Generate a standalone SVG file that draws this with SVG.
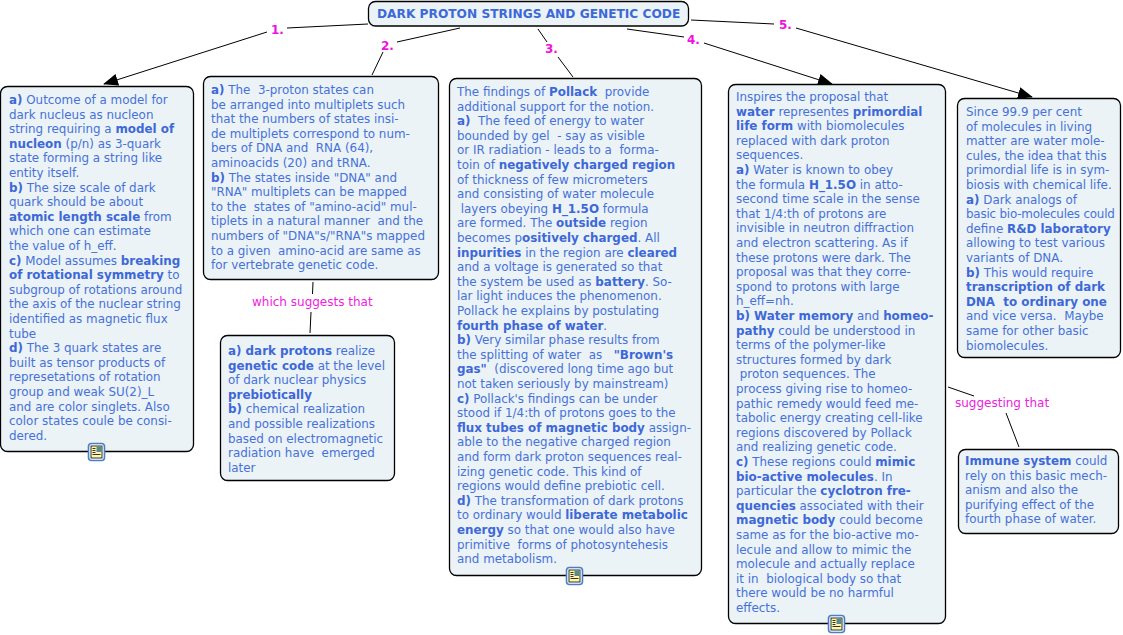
<svg xmlns="http://www.w3.org/2000/svg" width="1123" height="635" viewBox="0 0 1123 635">
<style>
.box{fill:#ebf3f7;stroke:#000;stroke-width:1.300}
.t{font-family:"DejaVu Sans",Verdana,sans-serif;font-size:11.900px;fill:#4671d8;white-space:pre}
.b{font-weight:bold;fill:#3d68d8}
.l{font-family:"DejaVu Sans",Verdana,sans-serif;font-size:12px;fill:#ee22e0}
.n{font-weight:bold;fill:#f010e0}
.c{fill:none;stroke:#000;stroke-width:1}
</style>
<defs>
<marker id="arr" markerWidth="15" markerHeight="12" refX="14" refY="6" orient="auto" markerUnits="userSpaceOnUse"><path d="M0 0L15 6L0 12Z" fill="#000"/></marker>
<g id="icon"><rect x="-8.500" y="-8.500" width="16" height="17" rx="3" fill="#fff" stroke="#4a7fc8" stroke-width="1.600"/><rect x="-6" y="-6" width="11" height="12" fill="#fff6b0" stroke="#000" stroke-width=".8"/><path d="M-4.500-3.500h3M-4.500-1.500h3M-4.500 .5h3M-4.500 2.500h8" stroke="#000" stroke-width=".8"/><rect x="-.5" y="-5.500" width="5" height="5.500" fill="#5a8a8a"/></g>
</defs>
<g id="connectors">
<path class="c" d="M368 24L287 28M267 32L104 84" marker-end="url(#arr)"/>
<path class="c" d="M460 28L397 42M383 52L372 75"/>
<path class="c" d="M538 29L547 42M558 57L573 77"/>
<path class="c" d="M627 29L684 37M704 43L832 84" marker-end="url(#arr)"/>
<path class="c" d="M691 20L774 24M796 28L1032 97" marker-end="url(#arr)"/>
<path class="c" d="M313 282L312.500 294M311 312L310 333"/>
<path class="c" d="M948 387L974 396M1006 413L1019 447"/>
<text class="l n" x="271" y="34">1.</text>
<text class="l n" x="381" y="50">2.</text>
<text class="l n" x="545" y="53">3.</text>
<text class="l n" x="687" y="44">4.</text>
<text class="l n" x="779" y="29">5.</text>
<text class="l" x="252" y="306">which suggests that</text>
<text class="l" x="955" y="407">suggesting that</text>
</g>
<g id="title"><rect class="box" x="368.500" y="1.500" width="320" height="24.500" rx="7"/><text class="t b" x="377" y="18" font-size="12.200" style="font-size:12.200px">DARK PROTON STRINGS AND GENETIC CODE</text></g>
<g id="n1"><rect class="box" x="0.500" y="86.500" width="193" height="365" rx="7"/>
<text class="t" y="104"><tspan x="9"><tspan class="b">a)</tspan> Outcome of a model for</tspan><tspan x="9" dy="14.600">dark nucleus as nucleon</tspan><tspan x="9" dy="14.600">string requiring a <tspan class="b">model of</tspan></tspan><tspan x="9" dy="14.600"><tspan class="b">nucleon</tspan> (p/n) as 3-quark</tspan><tspan x="9" dy="14.600">state forming a string like</tspan><tspan x="9" dy="14.600">entity itself.</tspan><tspan x="9" dy="14.600"><tspan class="b">b)</tspan> The size scale of dark</tspan><tspan x="9" dy="14.600">quark should be about</tspan><tspan x="9" dy="14.600"><tspan class="b">atomic length scale</tspan> from</tspan><tspan x="9" dy="14.600">which one can estimate</tspan><tspan x="9" dy="14.600">the value of h_eff.</tspan><tspan x="9" dy="14.600"><tspan class="b">c)</tspan> Model assumes <tspan class="b">breaking</tspan></tspan><tspan x="9" dy="14.600"><tspan class="b">of rotational symmetry</tspan> to</tspan><tspan x="9" dy="14.600">subgroup of rotations around</tspan><tspan x="9" dy="14.600">the axis of the nuclear string</tspan><tspan x="9" dy="14.600">identified as magnetic flux</tspan><tspan x="9" dy="14.600">tube</tspan><tspan x="9" dy="14.600"><tspan class="b">d)</tspan> The 3 quark states are</tspan><tspan x="9" dy="14.600">built as tensor products of</tspan><tspan x="9" dy="14.600">represetations of rotation</tspan><tspan x="9" dy="14.600">group and weak SU(2)_L</tspan><tspan x="9" dy="14.600">and are color singlets. Also</tspan><tspan x="9" dy="14.600">color states coule be consi-</tspan><tspan x="9" dy="14.600">dered.</tspan></text><use href="#icon" x="97" y="452"/></g>
<g id="n2"><rect class="box" x="203.500" y="76.500" width="235" height="203" rx="7"/>
<text class="t" y="94"><tspan x="211"><tspan class="b">a)</tspan> The  3-proton states can</tspan><tspan x="211" dy="14.600">be arranged into multiplets such</tspan><tspan x="211" dy="14.600">that the numbers of states insi-</tspan><tspan x="211" dy="14.600">de multiplets correspond to num-</tspan><tspan x="211" dy="14.600">bers of DNA and  RNA (64),</tspan><tspan x="211" dy="14.600">aminoacids (20) and tRNA.</tspan><tspan x="211" dy="14.600"><tspan class="b">b)</tspan> The states inside "DNA" and</tspan><tspan x="211" dy="14.600">"RNA" multiplets can be mapped</tspan><tspan x="211" dy="14.600">to the  states of "amino-acid" mul-</tspan><tspan x="211" dy="14.600">tiplets in a natural manner  and the</tspan><tspan x="211" dy="14.600">numbers of "DNA"s/"RNA"s mapped</tspan><tspan x="211" dy="14.600">to a given  amino-acid are same as</tspan><tspan x="211" dy="14.600">for vertebrate genetic code.</tspan></text></g>
<g id="n2b"><rect class="box" x="220.500" y="335.500" width="174" height="145" rx="7"/>
<text class="t" y="355"><tspan x="228"><tspan class="b">a) dark protons</tspan> realize</tspan><tspan x="228" dy="14.600"><tspan class="b">genetic code</tspan> at the level</tspan><tspan x="228" dy="14.600">of dark nuclear physics</tspan><tspan x="228" dy="14.600"><tspan class="b">prebiotically</tspan></tspan><tspan x="228" dy="14.600"><tspan class="b">b)</tspan> chemical realization</tspan><tspan x="228" dy="14.600">and possible realizations</tspan><tspan x="228" dy="14.600">based on electromagnetic</tspan><tspan x="228" dy="14.600">radiation have  emerged</tspan><tspan x="228" dy="14.600">later</tspan></text></g>
<g id="n3"><rect class="box" x="449.500" y="78.500" width="252" height="497" rx="7"/>
<text class="t" y="96"><tspan x="457">The findings of <tspan class="b">Pollack</tspan>  provide</tspan><tspan x="457" dy="14.600">additional support for the notion.</tspan><tspan x="457" dy="14.600"><tspan class="b">a)</tspan>  The feed of energy to water</tspan><tspan x="457" dy="14.600">bounded by gel  - say as visible</tspan><tspan x="457" dy="14.600">or IR radiation - leads to a  forma-</tspan><tspan x="457" dy="14.600">toin of <tspan class="b">negatively charged region</tspan></tspan><tspan x="457" dy="14.600">of thickness of few micrometers</tspan><tspan x="457" dy="14.600">and consisting of water molecule</tspan><tspan x="457" dy="14.600"> layers obeying <tspan class="b">H_1.5O</tspan> formula</tspan><tspan x="457" dy="14.600">are formed. The <tspan class="b">outside</tspan> region</tspan><tspan x="457" dy="14.600">becomes p<tspan class="b">ositively charged</tspan>. All</tspan><tspan x="457" dy="14.600"><tspan class="b">inpurities</tspan> in the region are <tspan class="b">cleared</tspan></tspan><tspan x="457" dy="14.600">and a voltage is generated so that</tspan><tspan x="457" dy="14.600">the system be used as <tspan class="b">battery</tspan>. So-</tspan><tspan x="457" dy="14.600">lar light induces the phenomenon.</tspan><tspan x="457" dy="14.600">Pollack he explains by postulating</tspan><tspan x="457" dy="14.600"><tspan class="b">fourth phase of water</tspan>.</tspan><tspan x="457" dy="14.600"><tspan class="b">b)</tspan> Very similar phase results from</tspan><tspan x="457" dy="14.600">the splitting of water  as   <tspan class="b">"Brown's</tspan></tspan><tspan x="457" dy="14.600"><tspan class="b">gas"</tspan>  (discovered long time ago but</tspan><tspan x="457" dy="14.600">not taken seriously by mainstream)</tspan><tspan x="457" dy="14.600"><tspan class="b">c)</tspan> Pollack's findings can be under</tspan><tspan x="457" dy="14.600">stood if 1/4:th of protons goes to the</tspan><tspan x="457" dy="14.600"><tspan class="b">flux tubes of magnetic body</tspan> assign-</tspan><tspan x="457" dy="14.600">able to the negative charged region</tspan><tspan x="457" dy="14.600">and form dark proton sequences real-</tspan><tspan x="457" dy="14.600">izing genetic code. This kind of</tspan><tspan x="457" dy="14.600">regions would define prebiotic cell.</tspan><tspan x="457" dy="14.600"><tspan class="b">d)</tspan> The transformation of dark protons</tspan><tspan x="457" dy="14.600">to ordinary would <tspan class="b">liberate metabolic</tspan></tspan><tspan x="457" dy="14.600"><tspan class="b">energy</tspan> so that one would also have</tspan><tspan x="457" dy="14.600">primitive  forms of photosyntehesis</tspan><tspan x="457" dy="14.600">and metabolism.</tspan></text><use href="#icon" x="575" y="576"/></g>
<g id="n4"><rect class="box" x="728.500" y="84.500" width="217" height="539" rx="7"/>
<text class="t" y="101"><tspan x="736">Inspires the proposal that</tspan><tspan x="736" dy="14.600"><tspan class="b">water</tspan> representes <tspan class="b">primordial</tspan></tspan><tspan x="736" dy="14.600"><tspan class="b">life form</tspan> with biomolecules</tspan><tspan x="736" dy="14.600">replaced with dark proton</tspan><tspan x="736" dy="14.600">sequences.</tspan><tspan x="736" dy="14.600"><tspan class="b">a)</tspan> Water is known to obey</tspan><tspan x="736" dy="14.600">the formula <tspan class="b">H_1.5O</tspan> in atto-</tspan><tspan x="736" dy="14.600">second time scale in the sense</tspan><tspan x="736" dy="14.600">that 1/4:th of protons are</tspan><tspan x="736" dy="14.600">invisible in neutron diffraction</tspan><tspan x="736" dy="14.600">and electron scattering. As if</tspan><tspan x="736" dy="14.600">these protons were dark. The</tspan><tspan x="736" dy="14.600">proposal was that they corre-</tspan><tspan x="736" dy="14.600">spond to protons with large</tspan><tspan x="736" dy="14.600">h_eff=nh.</tspan><tspan x="736" dy="14.600"><tspan class="b">b) Water memory</tspan> and <tspan class="b">homeo-</tspan></tspan><tspan x="736" dy="14.600"><tspan class="b">pathy</tspan> could be understood in</tspan><tspan x="736" dy="14.600">terms of the polymer-like</tspan><tspan x="736" dy="14.600">structures formed by dark</tspan><tspan x="736" dy="14.600"> proton sequences. The</tspan><tspan x="736" dy="14.600">process giving rise to homeo-</tspan><tspan x="736" dy="14.600">pathic remedy would feed me-</tspan><tspan x="736" dy="14.600">tabolic energy creating cell-like</tspan><tspan x="736" dy="14.600">regions discovered by Pollack</tspan><tspan x="736" dy="14.600">and realizing genetic code.</tspan><tspan x="736" dy="14.600"><tspan class="b">c)</tspan> These regions could <tspan class="b">mimic</tspan></tspan><tspan x="736" dy="14.600"><tspan class="b">bio-active molecules</tspan>. In</tspan><tspan x="736" dy="14.600">particular the <tspan class="b">cyclotron fre-</tspan></tspan><tspan x="736" dy="14.600"><tspan class="b">quencies</tspan> associated with their</tspan><tspan x="736" dy="14.600"><tspan class="b">magnetic body</tspan> could become</tspan><tspan x="736" dy="14.600">same as for the bio-active mo-</tspan><tspan x="736" dy="14.600">lecule and allow to mimic the</tspan><tspan x="736" dy="14.600">molecule and actually replace</tspan><tspan x="736" dy="14.600">it in  biological body so that</tspan><tspan x="736" dy="14.600">there would be no harmful</tspan><tspan x="736" dy="14.600">effects.</tspan></text><use href="#icon" x="837" y="624"/></g>
<g id="n5"><rect class="box" x="957.500" y="98.500" width="163" height="259" rx="7"/>
<text class="t" y="116"><tspan x="966">Since 99.9 per cent</tspan><tspan x="966" dy="14.600">of molecules in living</tspan><tspan x="966" dy="14.600">matter are water mole-</tspan><tspan x="966" dy="14.600">cules, the idea that this</tspan><tspan x="966" dy="14.600">primordial life is in sym-</tspan><tspan x="966" dy="14.600">biosis with chemical life.</tspan><tspan x="966" dy="14.600"><tspan class="b">a)</tspan> Dark analogs of</tspan><tspan x="966" dy="14.600" style="letter-spacing:-.2px">basic bio-molecules could</tspan><tspan x="966" dy="14.600">define <tspan class="b">R&amp;D laboratory</tspan></tspan><tspan x="966" dy="14.600">allowing to test various</tspan><tspan x="966" dy="14.600">variants of DNA.</tspan><tspan x="966" dy="14.600"><tspan class="b">b)</tspan> This would require</tspan><tspan x="966" dy="14.600"><tspan class="b">transcription of dark</tspan></tspan><tspan x="966" dy="14.600"><tspan class="b">DNA  to ordinary one</tspan></tspan><tspan x="966" dy="14.600">and vice versa.  Maybe</tspan><tspan x="966" dy="14.600">same for other basic</tspan><tspan x="966" dy="14.600">biomolecules.</tspan></text></g>
<g id="n6"><rect class="box" x="958.500" y="449.500" width="160" height="84" rx="7"/>
<text class="t" y="465"><tspan x="965"><tspan class="b">Immune system</tspan> could</tspan><tspan x="965" dy="14.600">rely on this basic mech-</tspan><tspan x="965" dy="14.600">anism and also the</tspan><tspan x="965" dy="14.600">purifying effect of the</tspan><tspan x="965" dy="14.600">fourth phase of water.</tspan></text></g>
</svg>
